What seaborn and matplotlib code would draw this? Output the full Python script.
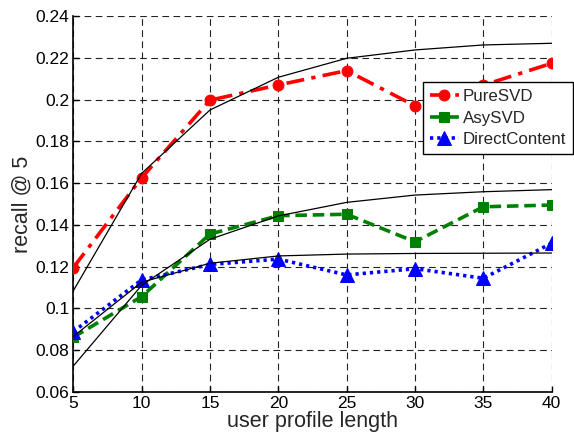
import matplotlib
matplotlib.use("Agg")
import matplotlib.pyplot as plt
import seaborn as sns
import pandas as pd

# Data
profile_length = [5, 10, 15, 20, 25, 30, 35, 40]
pure_svd = [0.1195, 0.1626, 0.1998, 0.2071, 0.2140, 0.1971, 0.2070, 0.2175]
asy_svd = [0.0861, 0.1056, 0.1356, 0.1444, 0.1451, 0.1319, 0.1487, 0.1495]
direct_content = [0.0888, 0.1136, 0.1210, 0.1236, 0.1160, 0.1190, 0.1144, 0.1312]
fit_pure = [0.1084, 0.1647, 0.1951, 0.2108, 0.2199, 0.2239, 0.2263, 0.2271]
fit_asy = [0.0723, 0.1110, 0.1331, 0.1443, 0.1508, 0.1543, 0.1559, 0.1569]
fit_direct = [0.0865, 0.1125, 0.1216, 0.1251, 0.1260, 0.1263, 0.1264, 0.1265]
series_names = ["PureSVD", "AsySVD", "DirectContent"]
x_label = "user profile length"
y_label = "recall @ 5"
y_ticks = [0.06, 0.08, 0.1, 0.12, 0.14, 0.16, 0.18, 0.2, 0.22, 0.24]
y_tick_labels = ["0.06", "0.08", "0.1", "0.12", "0.14", "0.16", "0.18", "0.2", "0.22", "0.24"]
x_ticks = [5, 10, 15, 20, 25, 30, 35, 40]

sns.set_style("white")
plt.rcParams["font.family"] = ["Liberation Sans", "DejaVu Sans"]

df = pd.DataFrame({
    "x": profile_length,
    "PureSVD": pure_svd, "AsySVD": asy_svd, "DirectContent": direct_content,
    "fit_pure": fit_pure, "fit_asy": fit_asy, "fit_direct": fit_direct,
})

fig = plt.figure(figsize=(5.74, 4.37), dpi=100)
ax = fig.add_axes([0.1277, 0.1037, 0.9611 - 0.1277, 0.9625 - 0.1037])

styles = [
    ("PureSVD", "red", (0, (5, 2, 1.2, 2)), "o", 7.8),
    ("AsySVD", "#008000", (0, (3.2, 1.6)), "s", 7.3),
    ("DirectContent", "blue", (0, (0.9, 1.1)), "^", 9.5),
]
for name, color, ls, mk, ms in styles:
    sns.lineplot(data=df, x="x", y=name, ax=ax, color=color, linestyle=ls,
                 linewidth=2.6, marker=mk, markersize=ms,
                 markeredgecolor=color, markerfacecolor=color,
                 label=name, zorder=4)

# fitted thin black curves (drawn above the series)
for col in ["fit_pure", "fit_asy", "fit_direct"]:
    sns.lineplot(data=df, x="x", y=col, ax=ax, color="black", linewidth=0.9,
                 legend=False, label="_nolegend_", zorder=5)

ax.set_xlim(5, 40)
ax.set_ylim(0.06, 0.24)
ax.set_xticks(x_ticks)
ax.set_xticklabels([str(v) for v in x_ticks])
ax.set_yticks(y_ticks)
ax.set_yticklabels(y_tick_labels)
ax.tick_params(axis="both", direction="in", length=4, width=1, labelsize=12.5,
               colors="black", pad=3, left=True, bottom=True)
ax.grid(True, color="#222222", linestyle=(0, (6, 4)), linewidth=0.8, zorder=1)
ax.set_axisbelow(True)
for side in ["top", "right"]:
    ax.spines[side].set_visible(False)
for side in ["left", "bottom"]:
    ax.spines[side].set_color("black")
    ax.spines[side].set_linewidth(1.2)

ax.set_xlabel(x_label, fontsize=15.5, labelpad=0)
ax.set_ylabel(y_label, fontsize=15.5, labelpad=2)

leg = ax.legend(loc="upper left", bbox_to_anchor=(0.730, 0.826),
                fontsize=12.2, frameon=True, fancybox=False, framealpha=1,
                edgecolor="black", borderpad=0.42, labelspacing=0.4,
                handlelength=1.75, handletextpad=0.2, borderaxespad=0)
leg.get_frame().set_linewidth(1.0)
leg.set_zorder(10)

fig.savefig("out.png", dpi=100)
